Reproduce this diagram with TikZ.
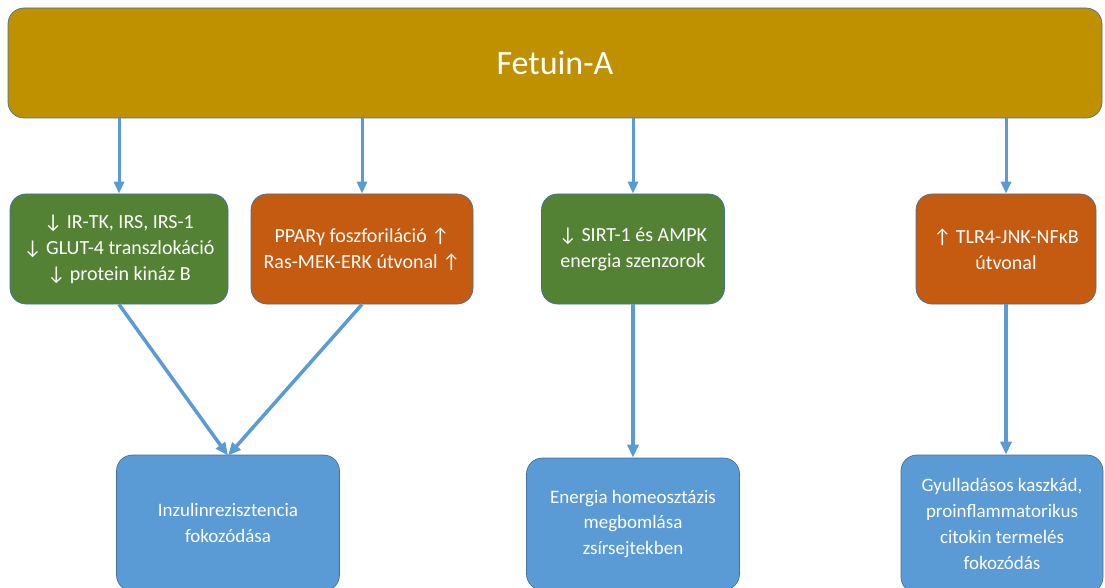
\documentclass[tikz,border=0pt]{standalone}
\usepackage{fontspec}
\setmainfont{Carlito}
\usetikzlibrary{arrows.meta, positioning}
\definecolor{fetgold}{HTML}{BF9000}
\definecolor{downgreen}{HTML}{548235}
\definecolor{uporange}{HTML}{C55A11}
\definecolor{effblue}{HTML}{5B9BD5}
\definecolor{boxedge}{HTML}{41719C}

\begin{document}
\begin{tikzpicture}[x=1pt, y=-1pt,
  box/.style={draw=boxedge, line width=0.7pt, rounded corners=16pt, text=white, align=center, inner sep=0pt, minimum height=110pt, font=\fontsize{20}{26}\selectfont},
  effect/.style={box, fill=effblue, font=\fontsize{19}{25.7}\selectfont},
  arr/.style={draw=effblue, line width=3pt, -{Triangle[length=12pt, width=10pt]}},
  bigarr/.style={draw=effblue, line width=3.5pt, -{Triangle[length=13pt, width=11pt]}}]
  \clip (0,0) rectangle (1105,588);

  % Fetuin-A
  \node[box, fill=fetgold, minimum width=1094pt, font=\fontsize{34}{40}\selectfont] (fet) at (555,63) {Fetuin-A};

  % Middle row
  \node[box, fill=downgreen, minimum width=218pt] (irs) at (119,249) {↓ IR-TK, IRS, IRS-1\\↓ GLUT-4 transzlokáció\\↓ protein kináz B};
  \node[box, fill=uporange, minimum width=222pt] (ppar) at (362,249) {PPARγ foszforiláció ↑\\Ras-MEK-ERK útvonal ↑};
  \node[box, fill=downgreen, minimum width=183pt] (sirt) at (633,249) {↓ SIRT-1 és AMPK\\energia szenzorok};
  \node[box, fill=uporange, minimum width=180pt] (tlr) at (1006,249) {↑ TLR4-JNK-NFκB\\útvonal};

  % Bottom row
  \node[effect, minimum width=223pt, minimum height=136pt] (inzulin) at (228,523) {Inzulinrezisztencia\\fokozódása};
  \node[effect, minimum width=213pt, minimum height=132pt] (energia) at (633,524) {Energia homeosztázis\\megbomlása\\zsírsejtekben};
  \node[effect, minimum width=202pt, minimum height=138pt] (gyull) at (1002,524) {Gyulladásos kaszkád,\\proinflammatorikus\\citokin termelés\\fokozódás};

  % Arrows
  \draw[arr] (irs.north |- fet.south) -- (irs.north);
  \draw[arr] (ppar.north |- fet.south) -- (ppar.north);
  \draw[arr] (sirt.north |- fet.south) -- (sirt.north);
  \draw[arr] (tlr.north |- fet.south) -- (tlr.north);
  \draw[bigarr] (irs.south) -- ([yshift=-1pt]inzulin.north);
  \draw[bigarr] (ppar.south) -- ([yshift=-1pt]inzulin.north);
  \draw[bigarr] (sirt.south) -- (sirt.south |- energia.north);
  \draw[bigarr] (tlr.south) -- (tlr.south |- gyull.north);
\end{tikzpicture}
\end{document}
